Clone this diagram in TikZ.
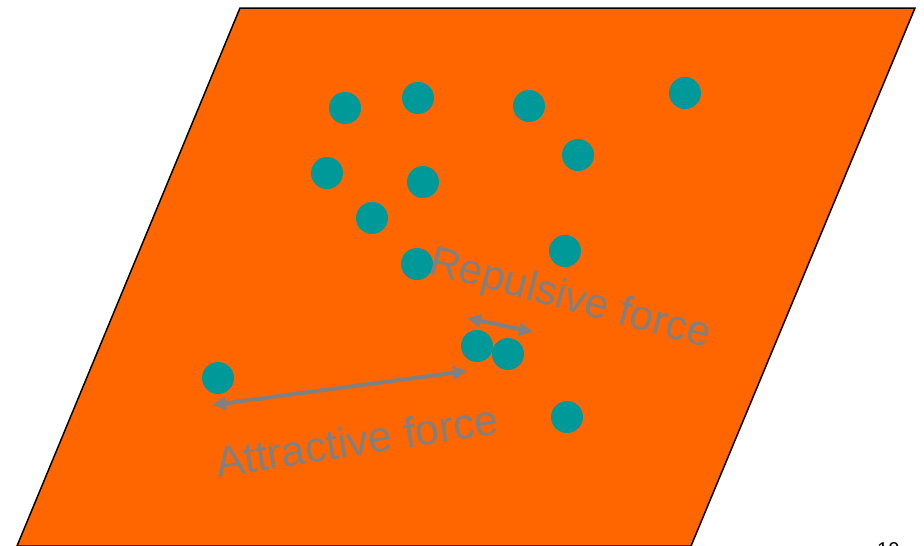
\documentclass[tikz,border=0pt]{standalone}
\usepackage{fontspec}
\setmainfont{Liberation Sans}
\usetikzlibrary{arrows.meta}
\definecolor{plane}{RGB}{255,102,0}
\definecolor{dotc}{RGB}{0,153,153}
\definecolor{forceg}{RGB}{128,128,128}
\tikzset{
  dot/.style={circle,fill=dotc,minimum size=32pt,inner sep=0pt,draw=none},
  force/.style={draw=forceg,line width=4pt,{Triangle[length=14pt,width=13pt]}-{Triangle[length=14pt,width=13pt]}},
  flabel/.style={text=forceg,font=\fontsize{42}{48}\selectfont,inner sep=0pt,anchor=base west},
}
\begin{document}
\begin{tikzpicture}[x=1pt,y=-1pt]
\useasboundingbox (0,0) rectangle (924,546);
\draw[fill=plane,draw=black,line width=1.5pt] (240,8) -- (915,8) -- (691,546) -- (17,546) -- cycle;
\node[dot] (d1) at (345,108) {};
\node[dot] (d2) at (418,98) {};
\node[dot] (d3) at (529,106) {};
\node[dot] (d4) at (685,93) {};
\node[dot] (d5) at (578,155) {};
\node[dot] (d6) at (327,173) {};
\node[dot] (d7) at (423,182) {};
\node[dot] (d8) at (372,218) {};
\node[dot] (d9) at (417,264) {};
\node[dot] (d10) at (565,251) {};
\node[dot] (d11) at (477,346) {};
\node[dot] (d12) at (508,354) {};
\node[dot] (d13) at (218,378) {};
\node[dot] (d14) at (567,417) {};
\coordinate (r1) at (467,318);
\coordinate (r2) at (533,332);
\coordinate (a1) at (212,405);
\coordinate (a2) at (467,371);
\draw[force] (r1) -- (r2);
\draw[force] (a1) -- (a2);
\node[flabel,rotate=-15] (rep) at (427,273) {Repulsive force};
\node[flabel,rotate=9,font=\fontsize{42.8}{48}\selectfont] (att) at (218,478) {Attractive force};
\node[text=black,font=\fontsize{20}{24}\selectfont,inner sep=0pt,anchor=base west] (num) at (877,556) {10};
\end{tikzpicture}
\end{document}
